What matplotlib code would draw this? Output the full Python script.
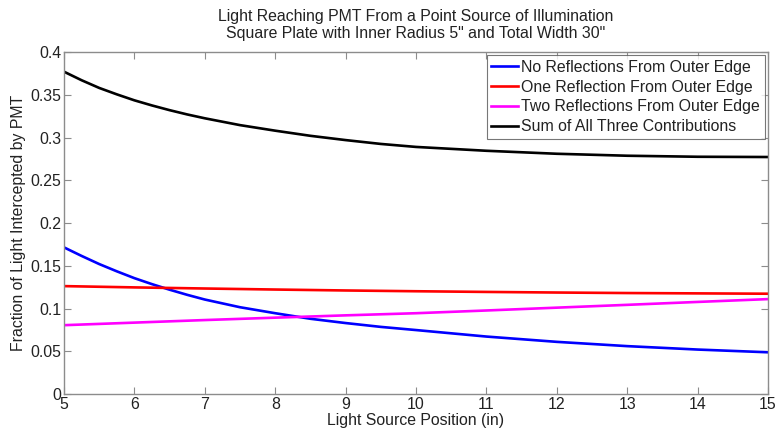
import matplotlib
matplotlib.use("Agg")
import matplotlib.pyplot as plt
from matplotlib.ticker import FuncFormatter

# Data (x in inches, y = fraction of light)
x_fine = [5, 5.25, 5.5, 5.75, 6, 6.25, 6.5, 6.75, 7, 7.5, 8, 8.5, 9, 9.5,
          10, 11, 12, 13, 14, 15]
no_refl = [0.1715, 0.1615, 0.152, 0.1435, 0.1355, 0.1285, 0.122, 0.116,
           0.1105, 0.1015, 0.0945, 0.088, 0.083, 0.0785, 0.0748, 0.0672,
           0.061, 0.056, 0.052, 0.0488]
total = [0.377, 0.367, 0.358, 0.3505, 0.3435, 0.3375, 0.332, 0.327,
         0.3225, 0.3145, 0.308, 0.302, 0.297, 0.2925, 0.289, 0.2845,
         0.281, 0.2787, 0.2775, 0.2772]

x_int = [5, 6, 7, 8, 9, 10, 11, 12, 13, 14, 15]
one_refl = [0.1262, 0.1247, 0.1234, 0.1222, 0.1211, 0.1202, 0.1194,
            0.1187, 0.1181, 0.1177, 0.1173]
two_refl = [0.0805, 0.0835, 0.0865, 0.0893, 0.092, 0.0945, 0.0977,
            0.101, 0.1043, 0.1077, 0.111]

labels = ["No Reflections From Outer Edge",
          "One Reflection From Outer Edge",
          "Two Reflections From Outer Edge",
          "Sum of All Three Contributions"]

plt.rcParams['font.family'] = ['Liberation Sans', 'DejaVu Sans']
FS = 11.4
TXT = '#222222'

fig = plt.figure(figsize=(7.75, 4.30), dpi=100)
ax = fig.add_axes([0.0826, 0.0837, 0.9084, 0.7953])

lw = 1.9
ax.plot(x_fine, no_refl, color='#0000ff', lw=lw, label=labels[0])
ax.plot(x_int, one_refl, color='#ff0000', lw=lw, label=labels[1])
ax.plot(x_int, two_refl, color='#ff00ff', lw=lw, label=labels[2])
ax.plot(x_fine, total, color='black', lw=lw, label=labels[3])

ax.set_xlim(5, 15)
ax.set_ylim(0, 0.4)
ax.set_xticks(range(5, 16))
ax.set_yticks([i * 0.05 for i in range(9)])
ax.yaxis.set_major_formatter(FuncFormatter(lambda v, p: "%g" % round(v, 2)))

gray = '#8c8c8c'
for s in ax.spines.values():
    s.set_color(gray)
    s.set_linewidth(1.0)
ax.tick_params(direction='in', top=True, right=True, length=5,
               color=gray, labelcolor=TXT, labelsize=FS, pad=2)

ax.set_xlabel("Light Source Position (in)", fontsize=FS, color=TXT, labelpad=1)
ax.set_ylabel("Fraction of Light Intercepted by PMT", fontsize=FS, color=TXT, labelpad=3)
ax.set_title("Light Reaching PMT From a Point Source of Illumination\n"
             "Square Plate with Inner Radius 5\" and Total Width 30\"",
             fontsize=FS, color=TXT, pad=10, linespacing=1.15)

leg = ax.legend(loc='upper right', fontsize=FS, frameon=True, fancybox=False,
                handlelength=1.7, handletextpad=0.2, labelspacing=0.3,
                borderpad=0.3, borderaxespad=0.2)
leg.get_frame().set_edgecolor('#555555')
leg.get_frame().set_linewidth(0.8)
for t in leg.get_texts():
    t.set_color(TXT)

fig.savefig("out.png", dpi=100)
